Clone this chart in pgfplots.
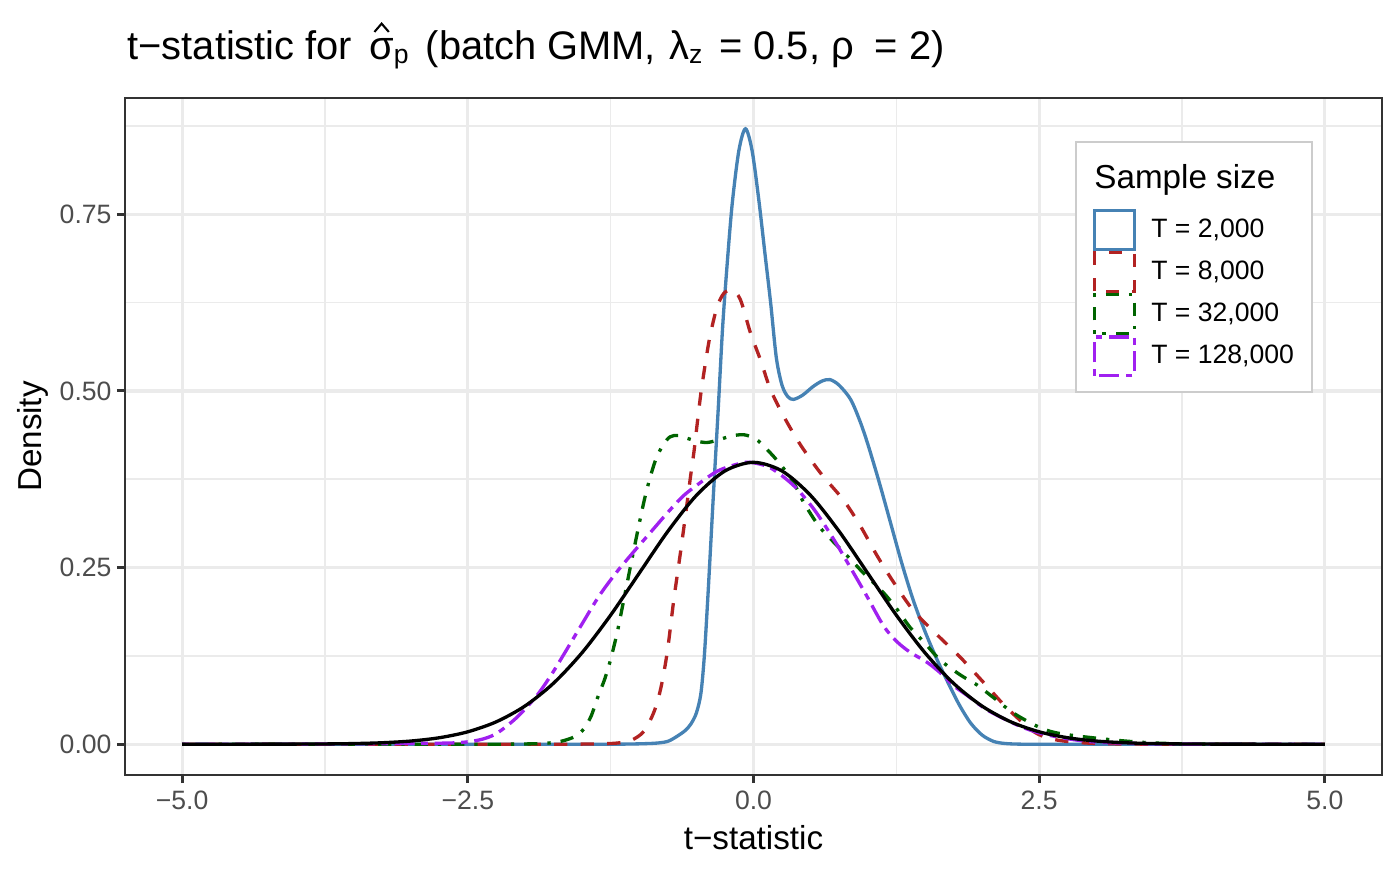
\documentclass[border=0pt]{standalone}
\usepackage{fontspec}
\setmainfont{Liberation Sans}
\usepackage{pgfplots}
\usepackage{pgfplotstable}
\pgfplotsset{compat=1.18}
\definecolor{cblue}{HTML}{4682B4}
\definecolor{cred}{HTML}{B22222}
\definecolor{cgreen}{HTML}{006400}
\definecolor{cpurple}{HTML}{A020F0}
\definecolor{gridc}{HTML}{EBEBEB}
\definecolor{grey20}{HTML}{333333}
\definecolor{grey30}{HTML}{4D4D4D}
\definecolor{grey80}{HTML}{CCCCCC}

\pgfplotstableread{
x y
-5 0
-4 0
-3 0
-2 0
-1.5 0
-1.2 0
-1.0 0.0005
-0.85 0.0015
-0.75 0.004
-0.67 0.011
-0.6 0.019
-0.55 0.028
-0.5 0.044
-0.46 0.072
-0.43 0.125
-0.40 0.206
-0.375 0.28
-0.35 0.355
-0.31 0.47
-0.27 0.59
-0.23 0.68
-0.186 0.765
-0.128 0.84
-0.07 0.871
-0.012 0.84
0.047 0.770
0.1 0.695
0.15 0.625
0.2 0.547
0.25 0.508
0.3 0.492
0.35 0.488
0.43 0.494
0.52 0.506
0.6 0.514
0.67 0.516
0.75 0.508
0.85 0.488
0.93 0.458
1.0 0.425
1.1 0.371
1.2 0.313
1.3 0.255
1.4 0.203
1.5 0.160
1.6 0.122
1.7 0.088
1.8 0.056
1.9 0.030
2.0 0.013
2.1 0.004
2.2 0.001
2.35 0
2.6 0
3 0
4 0
5 0
}\tblue

\pgfplotstableread{
x y
-5 0
-4 0
-3 0
-2 0
-1.6 0
-1.35 0.0005
-1.2 0.0015
-1.075 0.005
-0.96 0.018
-0.87 0.046
-0.81 0.08
-0.754 0.131
-0.696 0.206
-0.64 0.27
-0.59 0.33
-0.55 0.38
-0.52 0.415
-0.49 0.457
-0.46 0.497
-0.42 0.54
-0.38 0.578
-0.32 0.618
-0.26 0.638
-0.186 0.643
-0.114 0.629
-0.026 0.582
0.061 0.544
0.149 0.502
0.265 0.464
0.41 0.424
0.586 0.384
0.79 0.345
0.935 0.309
1.081 0.267
1.227 0.229
1.4 0.189
1.606 0.155
1.81 0.123
2.01 0.088
2.22 0.051
2.45 0.018
2.6 0.008
2.74 0.004
3.0 0.001
3.5 0
4 0
5 0
}\tred

\pgfplotstableread{
x y
-5 0
-4 0
-3 0
-2.2 0
-1.85 0.001
-1.687 0.004
-1.56 0.011
-1.483 0.022
-1.42 0.04
-1.366 0.065
-1.3 0.093
-1.25 0.12
-1.19 0.16
-1.134 0.205
-1.046 0.276
-0.959 0.343
-0.9 0.38
-0.85 0.405
-0.79 0.424
-0.73 0.435
-0.66 0.437
-0.58 0.433
-0.5 0.429
-0.405 0.427
-0.3 0.431
-0.2 0.436
-0.085 0.438
0.02 0.432
0.12 0.417
0.236 0.396
0.352 0.370
0.44 0.342
0.571 0.309
0.702 0.286
0.848 0.262
0.964 0.242
1.14 0.214
1.256 0.191
1.372 0.165
1.489 0.145
1.635 0.119
1.81 0.098
1.955 0.084
2.1 0.066
2.305 0.041
2.6 0.018
3.03 0.008
3.47 0.002
4 0
5 0
}\tgreen

\pgfplotstableread{
x y
-5 0
-4.5 0
-4 0
-3.5 0.0005
-3.0 0.001
-2.6 0.002
-2.4 0.006
-2.25 0.015
-2.07 0.038
-1.9 0.068
-1.774 0.097
-1.66 0.127
-1.49 0.173
-1.35 0.21
-1.2 0.243
-1.05 0.272
-0.9 0.300
-0.75 0.328
-0.61 0.352
-0.45 0.372
-0.31 0.387
-0.15 0.396
-0.03 0.399
0.149 0.391
0.352 0.366
0.527 0.333
0.702 0.290
0.877 0.242
0.994 0.209
1.14 0.167
1.256 0.145
1.372 0.130
1.518 0.116
1.635 0.101
1.75 0.083
1.87 0.069
2.05 0.048
2.31 0.027
2.5 0.016
2.74 0.008
3.0 0.003
3.5 0.0005
4 0
5 0
}\tpurple

\pgfplotstableread{
x y
-5 0.0000015
-4.5 0.000016
-4 0.00013
-3.75 0.00035
-3.5 0.00087
-3.25 0.00203
-3 0.00443
-2.75 0.00909
-2.5 0.01753
-2.25 0.03174
-2 0.05399
-1.75 0.08628
-1.5 0.12952
-1.25 0.18265
-1 0.24197
-0.75 0.30114
-0.5 0.35207
-0.25 0.38667
0 0.39894
0.25 0.38667
0.5 0.35207
0.75 0.30114
1 0.24197
1.25 0.18265
1.5 0.12952
1.75 0.08628
2 0.05399
2.25 0.03174
2.5 0.01753
2.75 0.00909
3 0.00443
3.25 0.00203
3.5 0.00087
3.75 0.00035
4 0.00013
4.5 0.000016
5 0.0000015
}\tnorm

\pgfplotsset{
  keyrect/.style={legend image code/.code={\draw[##1, line width=1.2pt] (0pt,-7pt) rectangle (14.4pt,7pt);}},
}
\newcommand{\sub}[1]{\raisebox{-1.7pt}{\fontsize{9.6}{10}\selectfont #1}}
\newcommand{\hatsigma}{{\setbox0\hbox{σ}\rlap{\hbox to \wd0{\hss\tikz[baseline=-9.8pt]\draw[line width=0.75pt, line join=miter, line cap=butt] (0pt,0pt) -- (2.6pt,3pt) -- (5.2pt,0pt);\hss}}σ}}

\begin{document}
\begin{tikzpicture}
\useasboundingbox (-45.17pt,-36.14pt) rectangle (460.72pt,280.04pt);
\begin{axis}[
  at={(0pt,0pt)}, anchor=south west,
  scale only axis, width=454.2pt, height=244.6pt,
  xmin=-5.5, xmax=5.5, ymin=-0.0436, ymax=0.9145,
  axis line style={grey20, line width=0.6pt},
  xtick={-5,-2.5,0,2.5,5}, xticklabels={−5.0,−2.5,0.0,2.5,5.0},
  ytick={0,0.25,0.5,0.75}, yticklabels={0.00,0.25,0.50,0.75},
  minor xtick={-3.75,-1.25,1.25,3.75}, minor ytick={0.125,0.375,0.625,0.875},
  grid=both,
  major grid style={gridc, line width=1.16pt},
  minor grid style={gridc, line width=0.58pt},
  tick align=outside, major tick length=2.9pt, minor tick length=0pt,
  xtick pos=bottom, ytick pos=left,
  every tick/.style={grey20, line width=1.1pt},
  ticklabel style={font=\fontsize{9.6}{11}\selectfont, text=grey30},
  yticklabel style={anchor=east, inner sep=0pt, xshift=-1.8pt},
  xticklabel style={anchor=north, inner sep=0pt, yshift=-2.8pt},
  legend style={at={(0.7701,0.8361)}, anchor=north west, draw=none, fill=none,
    inner sep=0pt, outer sep=0pt, row sep=0pt, column sep=5.5pt,
    font=\fontsize{9.6}{11}\selectfont, nodes={inner sep=0pt, anchor=west}},
  legend cell align=left,
  clip=false,
]
\fill[white] (rel axis cs:0.7565,0.5658) rectangle (rel axis cs:0.9443,0.9350);
\draw[grey80, line width=1pt] (rel axis cs:0.7565,0.5658) rectangle (rel axis cs:0.9443,0.9350);
\node[anchor=base west, inner sep=0pt, font=\fontsize{12}{14}\selectfont] at (rel axis cs:0.7708,0.8671) {Sample size};

\addplot[cblue, line width=1.2pt, smooth, keyrect] table[x=x,y=y] {\tblue};
\addlegendentry{T = 2,000}
\addplot[cred, line width=1.2pt, smooth, dash pattern=on 4.8pt off 4.8pt, keyrect] table[x=x,y=y] {\tred};
\addlegendentry{T = 8,000}
\addplot[cgreen, line width=1.2pt, smooth, dash pattern=on 1.2pt off 3.6pt on 4.8pt off 3.6pt, keyrect] table[x=x,y=y] {\tgreen};
\addlegendentry{T = 32,000}
\addplot[cpurple, line width=1.2pt, smooth, dash pattern=on 2.4pt off 2.4pt on 7.2pt off 2.4pt, keyrect] table[x=x,y=y] {\tpurple};
\addlegendentry{T = 128,000}
\addplot[black, line width=1.2pt, smooth, forget plot] table[x=x,y=y] {\tnorm};
\end{axis}
\node[anchor=base west, inner sep=0pt, font=\fontsize{14.4}{17}\selectfont] at (0.7pt,258.7pt)
  {t−statistic for\hspace{0.15em} \hatsigma\sub{p}\hspace{0.15em} (batch GMM, \hspace{0.05em}λ\sub{z}\hspace{0.15em} = 0.5, ρ\hspace{0.25em} = 2)};
\node[anchor=base, inner sep=0pt, font=\fontsize{12}{14}\selectfont] at (227.1pt,-27.1pt) {t−statistic};
\node[anchor=base, rotate=90, inner sep=0pt, font=\fontsize{12}{14}\selectfont] at (-30pt,122.3pt) {Density};
\end{tikzpicture}
\end{document}
